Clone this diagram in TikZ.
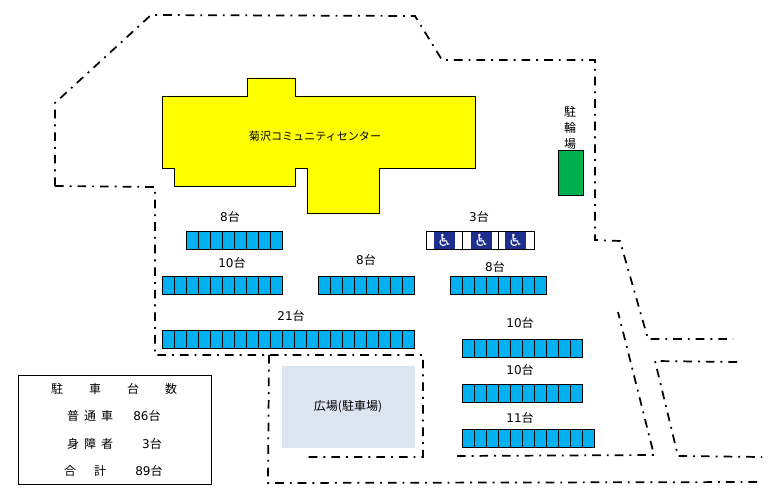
\documentclass[tikz,border=0pt]{standalone}
\usepackage{fontspec}
\setmainfont{Noto Sans CJK JP}
\newfontfamily\wheelfont{DejaVu Sans}
\newfontfamily\digitfont{DejaVu Sans}
\newcommand{\dg}[1]{{\digitfont #1}}
\tikzset{
  px/.style={x=0.75pt,y=-0.75pt},
  boundary/.style={line width=1.3pt,dash pattern=on 6.5pt off 4.5pt on 1.4pt off 4.5pt},
  outlined/.style={draw=black,line width=0.7pt},
  cell/.style={outlined,fill=cellblue},
  lbl/.style={font=\fontsize{9}{11}\selectfont,inner sep=0pt,text=black},
}
\definecolor{cellblue}{HTML}{00B0F0}
\definecolor{bldg}{HTML}{FFFF00}
\definecolor{bike}{HTML}{00B050}
\definecolor{plaza}{HTML}{DCE6F1}
\definecolor{wheel}{HTML}{1F2F8F}
\newcommand{\parkrow}[3]{% x, y, count
  \foreach \i in {1,...,#3}{
    \draw[cell] ({#1+(\i-1)*12},#2) rectangle ({#1+\i*12},#2+18);
  }
}
\begin{document}
\begin{tikzpicture}[px]
\useasboundingbox (0,0) rectangle (778,499);
% boundary
\draw[boundary] (55,186) -- (55,103) -- (151,15) -- (415,16) -- (442,60) -- (595,60) -- (595,240) -- (620,241) -- (648,339) -- (733,339);
\draw[boundary] (55,186) -- (155,187) -- (155,355) -- (423,355) -- (423,457) -- (308,457);
\draw[boundary] (269,355) -- (268,483) -- (763,482);
\draw[boundary] (457,456) -- (654,455) -- (618,312);
\draw[boundary] (737,362) -- (655,361) -- (678,456) -- (762,457);
% building
\draw[outlined,fill=bldg] (162,96) -- (247,96) -- (247,78) -- (295,78) -- (295,96) -- (475,96) -- (475,168) -- (379,168) -- (379,213) -- (307,213) -- (307,168) -- (295,168) -- (295,186) -- (174,186) -- (174,168) -- (162,168) -- cycle;
\node[lbl,font=\fontsize{8.3}{10}\selectfont] (center) at (315,136) {菊沢コミュニティセンター};
% bicycle
\draw[outlined,fill=bike] (558,150) rectangle (583,195);
\node[lbl,align=center] (bike) at (570,128) {駐\\[1pt]輪\\[1pt]場};
% parking rows
\parkrow{186}{231}{8}
\parkrow{162}{276}{10}
\parkrow{318}{276}{8}
\parkrow{450}{276}{8}
\parkrow{162}{330}{21}
\parkrow{462}{339}{10}
\parkrow{462}{384}{10}
\parkrow{462}{429}{11}
\node[lbl] (a) at (230,217) {\dg{8}台};
\node[lbl] (b) at (232,263) {\dg{10}台};
\node[lbl] (c) at (366,260) {\dg{8}台};
\node[lbl] (d) at (495,267) {\dg{8}台};
\node[lbl] (e) at (291,316) {\dg{21}台};
\node[lbl] (f) at (520,323) {\dg{10}台};
\node[lbl] (g) at (520,370) {\dg{10}台};
\node[lbl] (h) at (520,418) {\dg{11}台};
\node[lbl] (i) at (479,217) {\dg{3}台};
% accessible bays
\draw[outlined,fill=white] (426,231) rectangle (534,249);
\draw[outlined] (462,231) -- (462,249) (498,231) -- (498,249);
\foreach \n/\x in {w1/444.5,w2/481.5,w3/515.5}{
  \fill[wheel] ({\x-10.5},232) rectangle ({\x+10.5},248.6);
  \node[text=white,inner sep=0pt,font=\wheelfont\fontsize{12.5}{12.5}\selectfont] (\n) at (\x,240.3) {♿};
}
% plaza
\fill[plaza] (282,366) rectangle (415,448);
\node[lbl] (p) at (348,407) {広場(駐車場)};
% legend
\draw[draw=black,line width=0.7pt] (18,375) rectangle (211,484);
\foreach \n/\x/\t in {k1/57/駐,k2/95/車,k3/133/台,k4/171/数}{\node[lbl] (\n) at (\x,389) {\t};}
\foreach \n/\x/\t in {r1/73/普,r2/90/通,r3/107/車}{\node[lbl] (\n) at (\x,416) {\t};}
\node[lbl] (r4) at (147,416) {\dg{86}台};
\foreach \n/\x/\t in {s1/73/身,s2/90/障,s3/107/者}{\node[lbl] (\n) at (\x,444) {\t};}
\node[lbl] (s4) at (152,444) {\dg{3}台};
\foreach \n/\x/\t in {t1/70/合,t2/100/計}{\node[lbl] (\n) at (\x,471) {\t};}
\node[lbl] (t4) at (149,471) {\dg{89}台};
\end{tikzpicture}
\end{document}
